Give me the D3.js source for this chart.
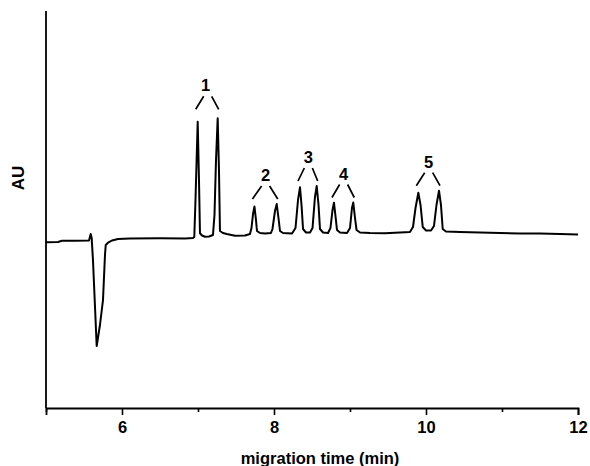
<!DOCTYPE html>
<html>
<head>
<meta charset="utf-8">
<script src="https://cdn.jsdelivr.net/npm/d3@7"></script>
<style>
  body { margin: 0; background: #fff; }
  text { font-family: Arial, "Liberation Sans", sans-serif; font-weight: bold; }
</style>
</head>
<body>
<div id="wrapper"></div>
<script>
// electropherogram trace, [migration time (min), absorbance (arb. mAU)]
const trace = [
  [5.000, -1.3], [5.158, -1.0], [5.210, 0.3], [5.380, 0.2], [5.566, 0.5],
  [5.588, 7.0], [5.601, 3.0], [5.618, -19], [5.667, -105], [5.710, -84],
  [5.750, -59], [5.776, -14], [5.786, -4], [5.816, -1.7], [5.868, 0.5],
  [5.947, 2.0], [6.105, 2.5], [6.500, 2.7], [6.829, 2.5], [6.934, 3.0],
  [6.951, 4.0], [6.967, 41], [6.996, 119.3], [7.013, 61], [7.026, 7.7],
  [7.053, 5.5], [7.092, 4.3], [7.145, 4.5], [7.197, 6.0], [7.217, 26],
  [7.237, 81], [7.259, 122.7], [7.276, 71], [7.289, 10], [7.329, 8.0],
  [7.378, 7.0], [7.487, 5.3], [7.618, 5.5], [7.684, 7.0], [7.704, 13],
  [7.724, 27], [7.743, 34.5], [7.763, 21], [7.776, 10], [7.816, 8.0],
  [7.882, 7.5], [7.960, 8.0], [7.980, 12], [8.013, 30], [8.036, 37],
  [8.059, 23], [8.079, 10], [8.118, 8.0], [8.237, 7.5], [8.283, 13],
  [8.316, 41], [8.342, 53.7], [8.362, 36], [8.382, 12], [8.421, 8.5],
  [8.474, 8.5], [8.507, 13], [8.539, 44], [8.562, 55], [8.586, 36],
  [8.605, 12], [8.645, 8.5], [8.711, 8.0], [8.743, 13], [8.770, 31],
  [8.789, 38.3], [8.812, 23], [8.829, 11], [8.868, 8.5], [8.961, 8.0],
  [9.000, 13], [9.026, 33], [9.043, 38.5], [9.066, 23], [9.086, 11],
  [9.132, 8.5], [9.263, 8.0], [9.461, 7.7], [9.658, 8.5], [9.789, 9.0],
  [9.829, 14], [9.862, 33], [9.899, 48.3], [9.928, 36], [9.957, 14],
  [10.000, 10.5], [10.066, 10.5], [10.105, 15], [10.138, 36], [10.171, 50.3],
  [10.197, 36], [10.220, 12], [10.263, 9.5], [10.447, 9.0], [10.711, 8.5],
  [10.974, 8.0], [11.237, 7.5], [11.500, 7.5], [11.763, 7.0], [12.000, 6.5]
]

// peak pairs: label, apex times and heights
const peakLabels = ["1", "2", "3", "4", "5"]
const leftApexT = [6.996, 7.743, 8.342, 8.789, 9.899]
const rightApexT = [7.259, 8.036, 8.562, 9.043, 10.171]
const leftApexV = [119.3, 34.5, 53.7, 38.3, 48.3]
const rightApexV = [122.7, 37, 55, 38.5, 50.3]

const majorTicks = [6, 8, 10, 12]
const minorTicks = [5, 7, 9, 11]

const width = 590, height = 466
const margin = {top: 11, right: 12, bottom: 58, left: 46}

const x = d3.scaleLinear()
    .domain([5, 12])
    .range([margin.left, width - margin.right])
const y = d3.scaleLinear()
    .domain([-167, 230])
    .range([height - margin.bottom, margin.top])

const svg = d3.select("#wrapper")
    .append("svg")
        .attr("width", width)
        .attr("height", height)

const axisY = height - margin.bottom

// x axis, labelled majors
svg.append("g")
    .attr("transform", `translate(0,${axisY})`)
    .call(d3.axisBottom(x).tickValues(majorTicks).tickSize(7).tickPadding(6)
        .tickFormat(d3.format("d")))
    .call(g => g.select(".domain").attr("stroke-width", 1.8))
    .call(g => g.selectAll(".tick line").attr("stroke-width", 1.6))
    .call(g => g.selectAll(".tick text")
        .attr("font-size", 16.5).attr("font-family", null))

// minor ticks
svg.append("g")
    .attr("transform", `translate(0,${axisY})`)
    .call(d3.axisBottom(x).tickValues(minorTicks).tickSize(4).tickFormat(""))
    .call(g => g.select(".domain").remove())
    .call(g => g.selectAll(".tick line").attr("stroke-width", 1.6))

// y axis line only
svg.append("line")
    .attr("x1", margin.left).attr("x2", margin.left)
    .attr("y1", margin.top).attr("y2", axisY)
    .attr("stroke", "#000")
    .attr("stroke-width", 1.8)

svg.append("text")
    .attr("x", 320)
    .attr("y", 464)
    .attr("text-anchor", "middle")
    .attr("font-size", 16.5)
    .text("migration time (min)")

svg.append("text")
    .attr("transform", `translate(24,178) rotate(-90)`)
    .attr("text-anchor", "middle")
    .attr("font-size", 17)
    .text("AU")

const line = d3.line()
    .x(d => x(d[0]))
    .y(d => y(d[1]))

svg.append("path")
    .datum(trace)
    .attr("d", line)
    .attr("fill", "none")
    .attr("stroke", "#000")
    .attr("stroke-width", 2)
    .attr("stroke-linejoin", "round")

// bracket annotations above each pair
const ann = svg.append("g")
peakLabels.forEach((lab, i) => {
    const xl = x(leftApexT[i]), xr = x(rightApexT[i])
    const mid = (xl + xr) / 2
    const top = y(Math.max(leftApexV[i], rightApexV[i]))
    const lift = i === 0 ? 4 : 0
    ann.append("path")
        .attr("d", `M${xl - 2},${top - 5 - lift}L${mid - 4},${top - 18 - lift}` +
                   `M${mid + 4},${top - 18 - lift}L${xr + 1},${top - 5 - lift}`)
        .attr("fill", "none")
        .attr("stroke", "#000")
        .attr("stroke-width", 1.7)
    ann.append("text")
        .attr("x", mid - (i === 0 ? 2 : 0))
        .attr("y", top - 23 - lift)
        .attr("text-anchor", "middle")
        .attr("font-size", 16.5)
        .text(lab)
})
</script>
</body>
</html>
